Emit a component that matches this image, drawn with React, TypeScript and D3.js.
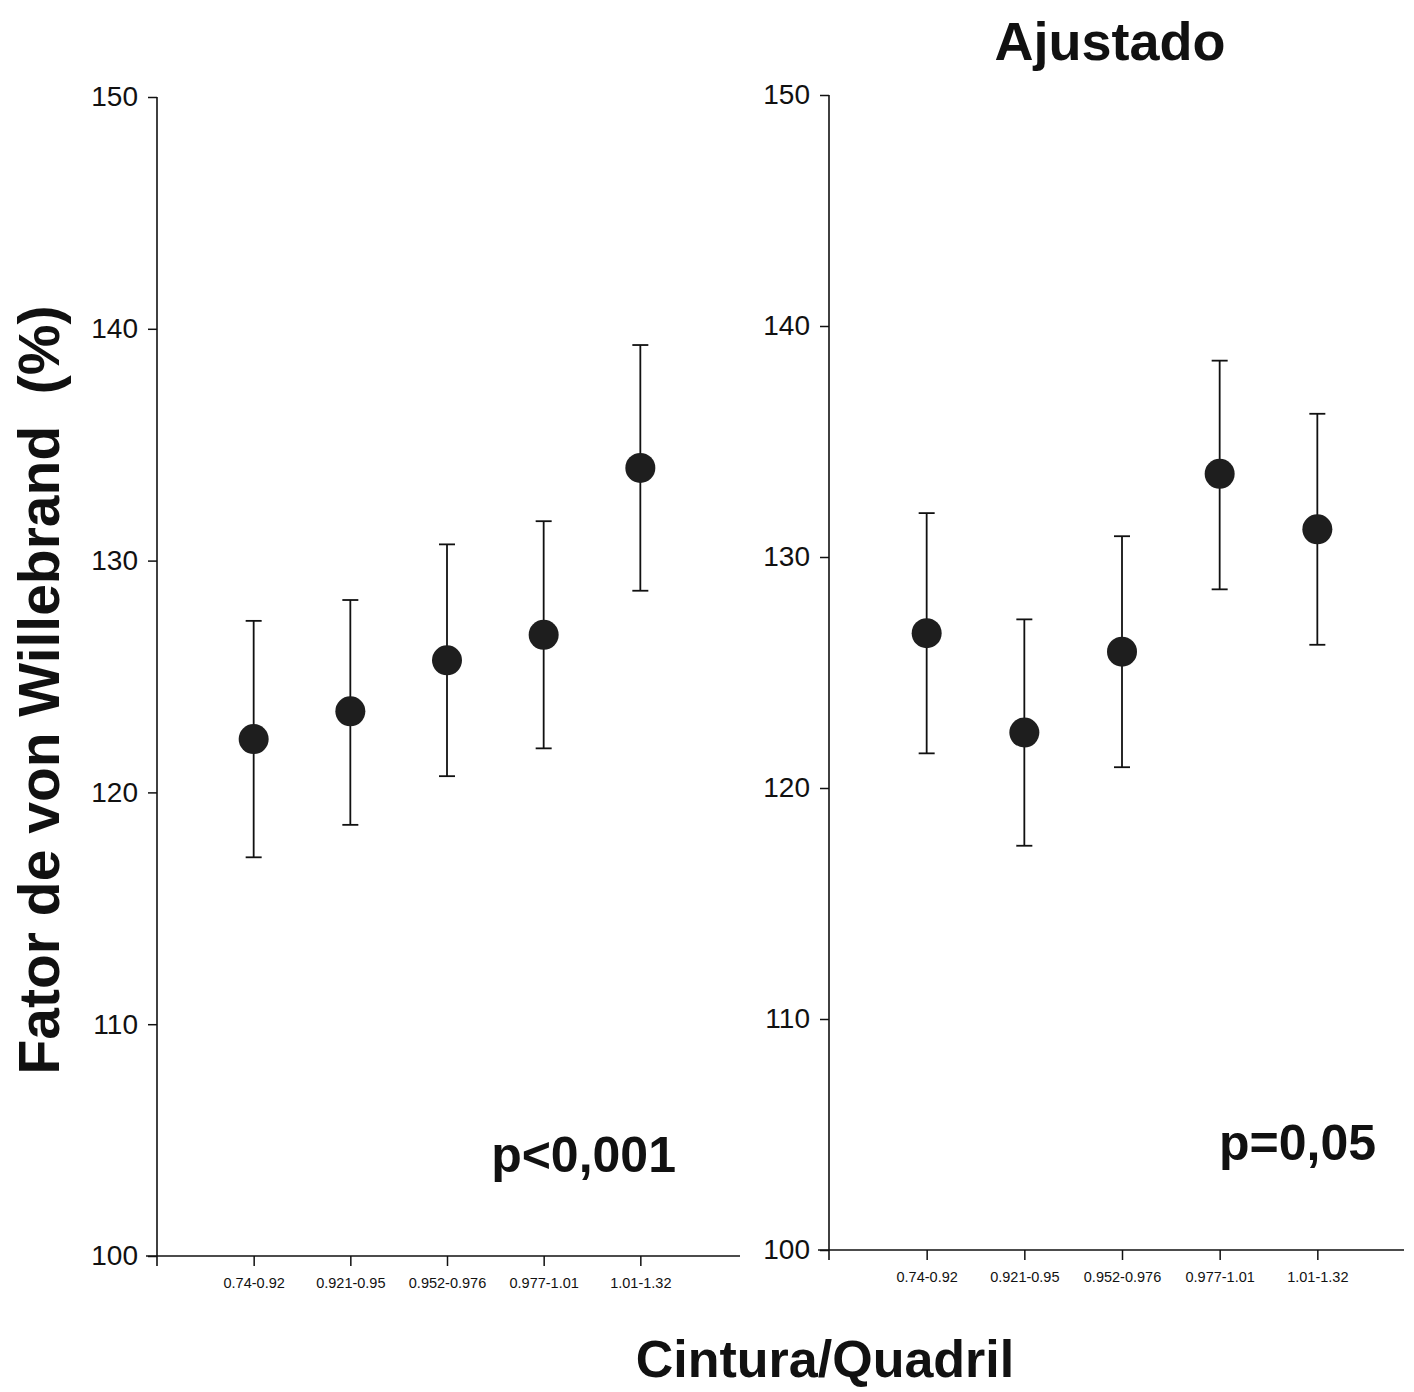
import * as d3 from "d3";
import { useEffect, useRef } from "react";

// categories (Cintura/Quadril) and estimated means / error bounds
const categories = ["0.74-0.92", "0.921-0.95", "0.952-0.976", "0.977-1.01", "1.01-1.32"];

const crudeMean = [122.3, 123.5, 125.7, 126.8, 134.0];
const crudeUpper = [127.4, 128.3, 130.7, 131.7, 139.3];
const crudeLower = [117.2, 118.6, 120.7, 121.9, 128.7];

const adjMean = [126.7, 122.4, 125.9, 133.6, 131.2];
const adjUpper = [131.9, 127.3, 130.9, 138.5, 136.2];
const adjLower = [121.5, 117.5, 120.9, 128.6, 126.2];

const yTicks = [100, 110, 120, 130, 140, 150];

const FONT = "'Liberation Sans', Arial, Helvetica, sans-serif";

export default function App() {
  const ref = useRef<SVGSVGElement>(null);

  useEffect(() => {
    const svg = d3.select(ref.current);
    svg.selectAll("*").remove();

    const width = 1414;
    const height = 1392;
    svg.attr("width", width).attr("height", height);

    const panels = [
      {
        x0: 157, x1: 737, yTop: 97, yBot: 1256, axisEnd: 740,
        mean: crudeMean, upper: crudeUpper, lower: crudeLower,
        pText: "p<0,001", pX: 676, pY: 1172,
      },
      {
        x0: 829, x1: 1415, yTop: 95, yBot: 1250, axisEnd: 1404,
        mean: adjMean, upper: adjUpper, lower: adjLower,
        pText: "p=0,05", pX: 1376, pY: 1160,
      },
    ];

    panels.forEach(p => {
      const x = d3.scaleLinear().domain([0, 6]).range([p.x0, p.x1]);
      const y = d3.scaleLinear().domain([100, 150]).range([p.yBot, p.yTop]);
      const g = svg.append("g");

      // y axis
      const yAxis = g.append("g")
        .attr("transform", `translate(${p.x0},0)`)
        .call(d3.axisLeft(y).tickValues(yTicks).tickSize(9).tickPadding(10).tickFormat(d3.format("d")));
      yAxis.select(".domain").remove();
      yAxis.selectAll("line").attr("stroke", "#111").attr("stroke-width", 1.5);
      yAxis.selectAll("text")
        .attr("font-family", FONT)
        .attr("font-size", 28)
        .attr("fill", "#111");

      // x axis
      const xAxis = g.append("g")
        .attr("transform", `translate(0,${p.yBot})`)
        .call(d3.axisBottom(x).tickValues([1, 2, 3, 4, 5]).tickSize(10).tickPadding(12)
          .tickFormat(d => categories[(d as number) - 1]));
      xAxis.select(".domain").remove();
      xAxis.selectAll("line").attr("stroke", "#111").attr("stroke-width", 1.5);
      xAxis.selectAll("text")
        .attr("font-family", FONT)
        .attr("font-size", 14.5)
        .attr("fill", "#111");

      // axis lines (y extends a bit below the x axis, x starts a bit left of the y axis)
      g.append("line")
        .attr("x1", p.x0).attr("x2", p.x0)
        .attr("y1", y(150)).attr("y2", y(100) + 10)
        .attr("stroke", "#111").attr("stroke-width", 1.6);
      g.append("line")
        .attr("x1", p.x0 - 11).attr("x2", p.axisEnd)
        .attr("y1", y(100)).attr("y2", y(100))
        .attr("stroke", "#111").attr("stroke-width", 1.6);

      const idx = d3.range(categories.length);

      // error bars
      g.selectAll("line.err")
        .data(idx)
        .join("line")
        .attr("class", "err")
        .attr("x1", i => x(i + 1)).attr("x2", i => x(i + 1))
        .attr("y1", i => y(p.upper[i])).attr("y2", i => y(p.lower[i]))
        .attr("stroke", "#111").attr("stroke-width", 1.8);

      ["upper", "lower"].forEach(k => {
        const vals = (p as any)[k] as number[];
        g.selectAll(`line.cap-${k}`)
          .data(idx)
          .join("line")
          .attr("class", `cap-${k}`)
          .attr("x1", i => x(i + 1) - 8).attr("x2", i => x(i + 1) + 8)
          .attr("y1", i => y(vals[i])).attr("y2", i => y(vals[i]))
          .attr("stroke", "#111").attr("stroke-width", 1.8);
      });

      // points
      g.selectAll("circle")
        .data(idx)
        .join("circle")
        .attr("cx", i => x(i + 1))
        .attr("cy", i => y(p.mean[i]))
        .attr("r", 15)
        .attr("fill", "#1e1e1e");

      g.append("text")
        .attr("x", p.pX).attr("y", p.pY)
        .attr("text-anchor", "end")
        .attr("font-family", FONT)
        .attr("font-weight", "bold")
        .attr("font-size", 50)
        .attr("fill", "#111")
        .text(p.pText);
    });

    svg.append("text")
      .attr("x", 1110).attr("y", 60)
      .attr("text-anchor", "middle")
      .attr("font-family", FONT)
      .attr("font-weight", "bold")
      .attr("font-size", 54)
      .attr("fill", "#111")
      .text("Ajustado");

    svg.append("text")
      .attr("x", 825).attr("y", 1377)
      .attr("text-anchor", "middle")
      .attr("font-family", FONT)
      .attr("font-weight", "bold")
      .attr("font-size", 52)
      .attr("fill", "#111")
      .text("Cintura/Quadril");

    svg.append("text")
      .attr("transform", "translate(59,690) rotate(-90)")
      .attr("text-anchor", "middle")
      .attr("font-family", FONT)
      .attr("font-weight", "bold")
      .attr("font-size", 57)
      .attr("fill", "#111")
      .style("white-space", "pre")
      .text("Fator de von Willebrand  (%)");
  }, []);

  return (
    <svg
      ref={ref}
      style={{ position: "absolute", left: 0, top: 0, background: "#fff" }}
    ></svg>
  );
}
